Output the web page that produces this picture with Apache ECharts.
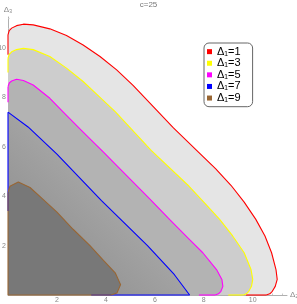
<!DOCTYPE html>
<html><head><meta charset="utf-8">
<script src="https://cdn.jsdelivr.net/npm/echarts@6/dist/echarts.min.js"></script>
<style>html,body{margin:0;padding:0;background:#fff}#c{width:297px;height:304px}</style>
</head><body><div id="c"></div>
<script>
const seriesNames = ['Δ₁=1', 'Δ₁=3', 'Δ₁=5', 'Δ₁=7', 'Δ₁=9'];
const xTicks = [2, 4, 6, 8, 10];
const yTicks = [2, 4, 6, 8, 10];
// boundary curves, from the Δ3 axis round to the Δ2 axis
const curve1 = [[0,10.53],[0.05,10.7],[0.15,10.8],[0.35,10.9],[0.63,10.96],[1.03,10.93],[1.71,10.77],[2.39,10.5],[3.07,10.12],[3.76,9.65],[4.44,9.11],[5.11,8.48],[5.8,7.76],[6.76,6.76],[7.76,5.8],[8.48,5.11],[9.11,4.44],[9.65,3.76],[10.12,3.07],[10.5,2.39],[10.77,1.71],[10.95,1.03],[11.0,0.63],[10.92,0.35],[10.8,0.15],[10.7,0.05],[10.55,0]];
const curve3 = [[0,9.58],[0.05,9.74],[0.15,9.84],[0.35,9.93],[0.63,9.98],[1.03,9.93],[1.71,9.65],[2.39,9.18],[3.07,8.64],[3.76,8.0],[4.4,7.4],[5.85,5.85],[7.4,4.4],[8.0,3.76],[8.64,3.07],[9.18,2.39],[9.65,1.71],[9.93,1.03],[10.0,0.63],[9.95,0.35],[9.84,0.15],[9.74,0.05],[9.62,0]];
const curve5 = [[0,8.43],[0.05,8.58],[0.15,8.66],[0.35,8.73],[0.63,8.68],[1.03,8.5],[1.71,7.96],[2.26,7.4],[3.0,6.66],[3.9,5.78],[4.84,4.84],[5.78,3.9],[6.66,3.0],[7.4,2.26],[7.96,1.71],[8.52,1.03],[8.74,0.63],[8.78,0.35],[8.7,0.15],[8.6,0.05],[8.47,0]];
const curve7 = [[0,7.4],[0.82,6.8],[2.0,5.7],[3.82,3.82],[5.7,2.0],[6.8,0.82],[7.42,0]];
const curve9 = [[0,4.15],[0.08,4.4],[0.42,4.57],[0.9,4.35],[1.4,3.9],[2.0,3.35],[2.66,2.66],[3.35,2.0],[3.9,1.4],[4.38,0.9],[4.6,0.42],[4.45,0.08],[4.2,0]];
const curves = [curve1, curve3, curve5, curve7, curve9];
// where each coloured edge segment along the axes begins
const edgeStart = [9.72, 9.0, 7.8, 3.4, 0];

const lineColors = ['#ff0000', '#ffff00', '#ff00ff', '#0000ff', '#996633'];
const fillColors = ['#e5e5e5', '#cdcdcd', '#b3b3b3',
  {type: 'linear', x: 0, y: 1, x2: 1, y2: 0, colorStops: [
    {offset: 0, color: '#868686'}, {offset: 0.5, color: '#a2a2a2'}, {offset: 1, color: '#bcbcbc'}]},
  '#787878'];

function makeRender(k) {
  return function (params, api) {
    if (params.dataIndex !== 0) return null;
    const curve = curves[k];
    const s = edgeStart[k];
    const poly = [[0, 0]].concat(curve).map(p => api.coord(p));
    const line = curve.map(p => api.coord(p));
    const a = curve[0][1];
    const b = curve[curve.length - 1][0];
    const edge1 = [[0, s], [0, a]].map(p => api.coord(p));
    const edge2 = [[b, 0], [s, 0]].map(p => api.coord(p));
    const ls = {stroke: lineColors[k], lineWidth: 1.1, fill: null, lineJoin: 'round'};
    return {type: 'group', children: [
      {type: 'polygon', shape: {points: poly}, style: {fill: fillColors[k]}, z2: 0},
      {type: 'polyline', shape: {points: edge1}, style: ls, z2: 10 + k},
      {type: 'polyline', shape: {points: edge2}, style: ls, z2: 10 + k},
      {type: 'polyline', shape: {points: line}, style: ls, z2: 10 + k}
    ]};
  };
}

const chart = echarts.init(document.getElementById('c'), null, {renderer: 'canvas'});
const axisCommon = {
  type: 'value', min: 0, interval: 2,
  axisLine: {show: true, onZero: false, lineStyle: {color: '#b0b0b0', width: 1}},
  axisTick: {show: true, inside: true, length: 3, lineStyle: {color: '#b0b0b0'}},
  minorTick: {show: true, splitNumber: 5, length: 1.5, lineStyle: {color: '#c8c8c8'}},
  splitLine: {show: false},
  axisLabel: {fontSize: 7, color: '#888', fontFamily: 'Liberation Sans', margin: 2},
  nameTextStyle: {fontSize: 8, color: '#888', fontFamily: 'Liberation Sans'}
};
chart.setOption({
  animation: false,
  title: {text: 'c=25', left: 'center', top: 1, padding: 0,
    textStyle: {fontSize: 8, fontWeight: 'normal', color: '#777', fontFamily: 'Liberation Sans'}},
  grid: {left: 8, right: 10, top: 17, bottom: 9, containLabel: false, outerBoundsMode: 'none'},
  xAxis: Object.assign({}, axisCommon, {max: 11.4, name: 'Δ₂', nameLocation: 'end', nameGap: 3,
    axisTick: Object.assign({}, axisCommon.axisTick, {customValues: xTicks}),
    axisLabel: Object.assign({}, axisCommon.axisLabel, {customValues: xTicks}),
    nameTextStyle: Object.assign({}, axisCommon.nameTextStyle, {padding: [3, 0, 0, 0]})}),
  yAxis: Object.assign({}, axisCommon, {max: 11.25, name: 'Δ₃', nameLocation: 'end', nameGap: 3,
    axisTick: Object.assign({}, axisCommon.axisTick, {customValues: yTicks}),
    axisLabel: Object.assign({}, axisCommon.axisLabel, {customValues: yTicks})}),
  legend: {
    orient: 'vertical', left: 204, top: 43, selectedMode: false,
    itemWidth: 5, itemHeight: 5, itemGap: 0.3, icon: 'rect',
    padding: [3, 12, 3, 3],
    backgroundColor: '#fff', borderColor: '#666', borderWidth: 1, borderRadius: 5,
    textStyle: {fontSize: 11, lineHeight: 11.3, color: '#000', fontFamily: 'Liberation Sans'},
    data: seriesNames
  },
  series: curves.map((c, k) => ({
    type: 'custom', name: seriesNames[k], renderItem: makeRender(k),
    data: c, encode: {x: 0, y: 1}, itemStyle: {color: lineColors[k]}, z: 2, clip: false
  }))
});
</script></body></html>
